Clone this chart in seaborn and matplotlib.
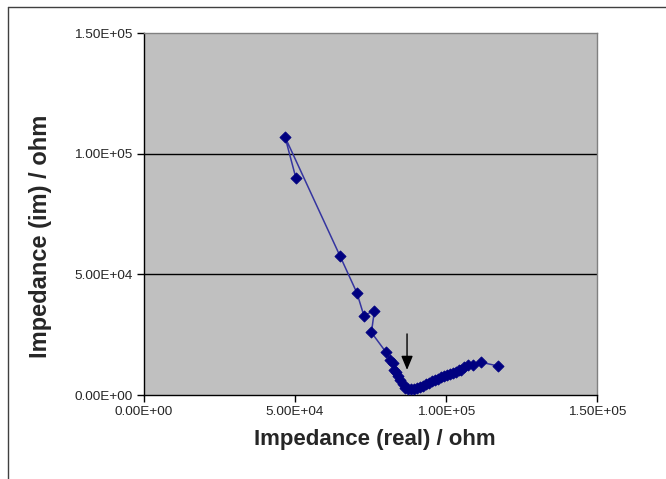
import matplotlib
matplotlib.use("Agg")
import matplotlib.pyplot as plt
from matplotlib.lines import Line2D
import seaborn as sns
import pandas as pd

# Nyquist data (ohm)
z_real = [50.3e3, 46.7e3, 64.9e3, 70.5e3, 72.8e3, 76.3e3, 75.3e3, 80.1e3,
          81.5e3, 82.3e3, 82.8e3, 83.4e3, 84.1e3, 84.8e3, 85.6e3, 86.4e3,
          87.4e3, 88.4e3, 89.4e3, 90.4e3, 91.4e3, 92.4e3, 93.4e3, 94.4e3,
          95.4e3, 96.4e3, 97.4e3, 98.3e3, 99.3e3, 100.3e3, 101.3e3, 102.3e3,
          103.3e3, 104.3e3, 105.0e3, 105.8e3, 107.2e3, 108.8e3, 111.5e3,
          117.3e3]
z_imag = [89.9e3, 106.9e3, 57.6e3, 42.3e3, 32.9e3, 35.0e3, 25.9e3, 17.8e3,
          14.5e3, 13.1e3, 10.4e3, 9.5e3, 7.7e3, 6.2e3, 4.4e3, 3.1e3,
          2.5e3, 2.3e3, 2.5e3, 2.8e3, 3.3e3, 3.8e3, 4.4e3, 5.0e3,
          5.6e3, 6.2e3, 6.8e3, 7.3e3, 7.7e3, 8.3e3, 8.7e3, 9.1e3,
          9.7e3, 10.2e3, 10.4e3, 11.6e3, 12.4e3, 12.4e3, 13.6e3,
          12.0e3]
x_ticks = [0, 5e4, 1e5, 1.5e5]
y_ticks = [0, 5e4, 1e5, 1.5e5]
tick_labels = ["0.00E+00", "5.00E+04", "1.00E+05", "1.50E+05"]
arrow_x = 87.1e3
arrow_from = 25.3e3
arrow_to = 10.4e3

df = pd.DataFrame({"real": z_real, "imag": z_imag})

sns.set_theme(style="white")
plt.rcParams["font.family"] = ["Liberation Sans", "DejaVu Sans"]

fig = plt.figure(figsize=(6.66, 4.79), dpi=100)
ax = fig.add_axes([144 / 666, 1 - 395 / 479, 453 / 666, 362 / 479])
ax.set_facecolor("#C0C0C0")

sns.lineplot(data=df, x="real", y="imag", sort=False, estimator=None,
             color="#3535A0", lw=1.1, ax=ax, zorder=3)
sns.scatterplot(data=df, x="real", y="imag", marker="D", s=32,
                color="#000080", edgecolor="#000080", linewidth=0.6,
                ax=ax, zorder=4)

ax.set_xlim(0, 1.5e5)
ax.set_ylim(0, 1.5e5)
ax.set_xticks(x_ticks)
ax.set_yticks(y_ticks)
ax.set_xticklabels(tick_labels, fontsize=9.7)
ax.set_yticklabels(tick_labels, fontsize=9.7)
ax.tick_params(axis="both", direction="out", length=5, width=1,
               color="black", left=True, bottom=True, pad=3)

for y in y_ticks[1:3]:
    ax.axhline(y, color="black", lw=1, zorder=1)

for side in ("top", "right"):
    ax.spines[side].set_color("#808080")
    ax.spines[side].set_linewidth(1)
for side in ("left", "bottom"):
    ax.spines[side].set_color("black")
    ax.spines[side].set_linewidth(1)

ax.set_xlabel("")
ax.set_ylabel("")
fig.text(375 / 666, 1 - 440 / 479, "Impedance (real) / ohm", fontsize=16,
         fontweight="bold", ha="center", va="center")
fig.text(41 / 666, 1 - 236 / 479, "Impedance (im) / ohm", fontsize=17,
         fontweight="bold", ha="center", va="center", rotation=90)

ax.annotate("", xy=(arrow_x, arrow_to), xytext=(arrow_x, arrow_from),
            arrowprops=dict(arrowstyle="-|>,head_length=0.6,head_width=0.25",
                            color="black", lw=1, mutation_scale=14,
                            shrinkA=0, shrinkB=0), zorder=5)

# chart frame
fy = 1 - 7 / 479
fx = 8 / 666
fig.add_artist(Line2D([fx, 1], [fy, fy], color="#404040", lw=1))
fig.add_artist(Line2D([fx, fx], [0, fy], color="#404040", lw=1))

fig.savefig("out.png", dpi=100)
